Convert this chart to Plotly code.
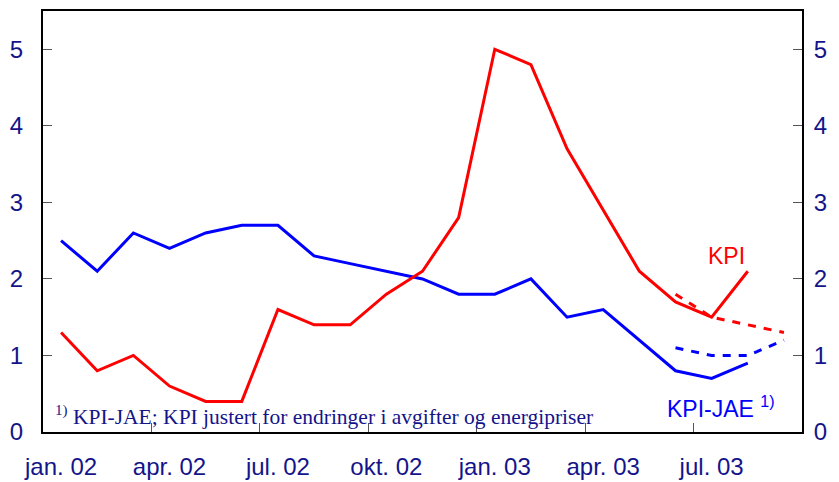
import plotly.graph_objects as go

months = ["jan. 02", "feb. 02", "mar. 02", "apr. 02", "mai 02", "jun. 02", "jul. 02", "aug. 02",
          "sep. 02", "okt. 02", "nov. 02", "des. 02", "jan. 03", "feb. 03", "mar. 03", "apr. 03",
          "mai 03", "jun. 03", "jul. 03", "aug. 03", "sep. 03"]
kpi = [1.3, 0.8, 1.0, 0.6, 0.4, 0.4, 1.6, 1.4, 1.4, 1.8, 2.1, 2.8, 5.0, 4.8, 3.7, 2.9, 2.1, 1.7, 1.5, 2.1]
kpi_jae = [2.5, 2.1, 2.6, 2.4, 2.6, 2.7, 2.7, 2.3, 2.2, 2.1, 2.0, 1.8, 1.8, 2.0, 1.5, 1.6, 1.2, 0.8, 0.7, 0.9]
fc_months = ["jun. 03", "jul. 03", "aug. 03", "sep. 03"]
kpi_fc = [1.8, 1.5, 1.4, 1.3]
kpi_jae_fc = [1.1, 1.0, 1.0, 1.2]
tick_labels = ["jan. 02", "apr. 02", "jul. 02", "okt. 02", "jan. 03", "apr. 03", "jul. 03"]
y_ticks = [0, 1, 2, 3, 4, 5]

idx = {m: i for i, m in enumerate(months)}
navy = "#14148a"
RED = "#ff0000"
BLUE = "#0000ff"

fig = go.Figure()
fig.add_trace(go.Scatter(x=[idx[m] for m in months[:len(kpi_jae)]], y=kpi_jae, mode="lines",
                         line=dict(color=BLUE, width=3), showlegend=False))
fig.add_trace(go.Scatter(x=[idx[m] for m in months[:len(kpi)]], y=kpi, mode="lines",
                         line=dict(color=RED, width=3), showlegend=False))
fig.add_trace(go.Scatter(x=[idx[m] for m in fc_months], y=kpi_fc, mode="lines",
                         line=dict(color=RED, width=3, dash="8px,8px"), showlegend=False))
fig.add_trace(go.Scatter(x=[idx[m] for m in fc_months], y=kpi_jae_fc, mode="lines",
                         line=dict(color=BLUE, width=3, dash="8px,8px"), showlegend=False))
# invisible trace for secondary axes
fig.add_trace(go.Scatter(x=[0], y=[0], xaxis="x2", yaxis="y2", mode="markers",
                         marker=dict(opacity=0), showlegend=False, hoverinfo="skip"))

tfont = dict(family="Liberation Sans, Arial, sans-serif", size=24, color=navy)
label_pos = [idx[m] for m in tick_labels]
boundary_pos = [p - 0.5 for p in label_pos[1:]]

fig.update_layout(
    width=839, height=482,
    margin=dict(l=43, r=37, t=11, b=50, autoexpand=False),
    plot_bgcolor="white", paper_bgcolor="white",
    xaxis=dict(range=[-0.5, 20.5], tickmode="array", tickvals=boundary_pos,
               showticklabels=False, ticks="inside", ticklen=9, tickcolor="#555",
               tickwidth=1, showgrid=False, zeroline=False, showline=True, linecolor="black",
               linewidth=2, mirror=True, automargin=False),
    xaxis2=dict(range=[-0.5, 20.5], overlaying="x", side="bottom", tickmode="array",
                tickvals=label_pos, ticktext=tick_labels, ticks="", showgrid=False,
                zeroline=False, showline=False, tickfont=tfont, ticklabelstandoff=18,
                automargin=False),
    yaxis=dict(range=[0, 5.5], tickmode="array", tickvals=y_ticks, ticks="inside", ticklen=9,
               tickcolor="#555", tickwidth=1, showgrid=False, zeroline=False, showline=True,
               linecolor="black", linewidth=2, tickfont=tfont, ticklabelstandoff=13,
               automargin=False),
    yaxis2=dict(range=[0, 5.5], overlaying="y", side="right", tickmode="array", tickvals=y_ticks,
                ticks="inside", ticklen=9, tickcolor="#555", tickwidth=1, showgrid=False,
                zeroline=False, showline=True, linecolor="black", linewidth=2, tickfont=tfont,
                ticklabelstandoff=5, automargin=False),
)

fig.add_annotation(x=idx["jul. 03"] + 0.4, y=2.3, xref="x", yref="y", text="KPI", showarrow=False,
                   font=dict(family="Liberation Sans, Arial, sans-serif", size=23, color=RED))
fig.add_annotation(x=idx["jul. 03"] + 0.25, y=0.33, xref="x", yref="y",
                   text="KPI-JAE <sup>1)</sup>", showarrow=False,
                   font=dict(family="Liberation Sans, Arial, sans-serif", size=23, color=BLUE))
fig.add_annotation(x=0.013, y=0.0, xref="paper", yref="paper", xanchor="left", yanchor="bottom",
                   yshift=1,
                   text="<sup>1)</sup> KPI-JAE; KPI justert for endringer i avgifter og energipriser",
                   showarrow=False,
                   font=dict(family="Liberation Serif, Times New Roman, serif", size=21.5, color=navy))

fig.write_html("out.html", config={"displayModeBar": False},
               post_script="document.body.style.margin='0';document.body.style.overflow='hidden';")
